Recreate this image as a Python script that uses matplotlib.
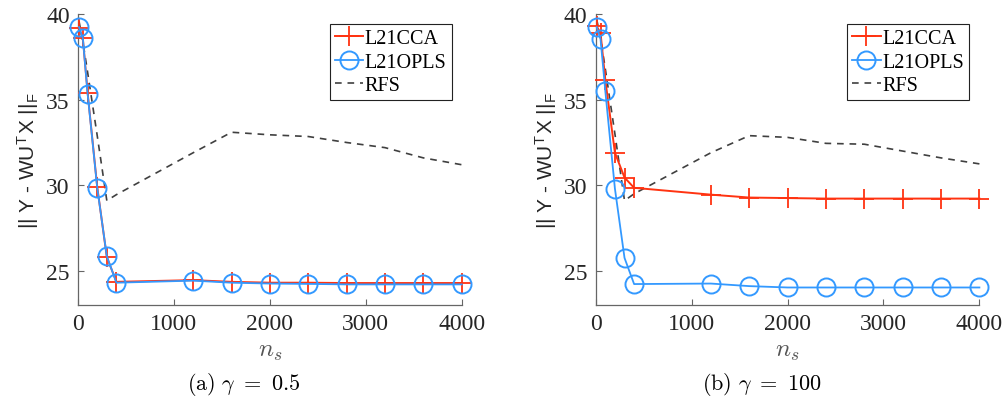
import numpy as np
import matplotlib
matplotlib.use('Agg')
import matplotlib.pyplot as plt

# dados
ns = [10, 50, 100, 200, 300, 400, 1200, 1600, 2000, 2400, 2800, 3200, 3600, 4000]

# (a) gamma = 0.5
cca_a = [39.2, 38.6, 35.4, 29.9, 25.8, 24.35, 24.45, 24.35, 24.3, 24.3, 24.28, 24.28, 24.28, 24.28]
opls_a = [39.25, 38.6, 35.35, 29.85, 25.85, 24.3, 24.42, 24.3, 24.25, 24.23, 24.2, 24.2, 24.2, 24.2]
rfs_a = [39.6, 38.4, 36.6, 32.9, 29.1, 29.45, 31.9, 33.1, 32.95, 32.85, 32.5, 32.2, 31.6, 31.2]

# (b) gamma = 100
cca_b = [39.3, 38.9, 36.15, 31.9, 30.45, 29.85, 29.45, 29.28, 29.25, 29.22, 29.22, 29.22, 29.22, 29.22]
opls_b = [39.25, 38.55, 35.5, 29.8, 25.75, 24.22, 24.25, 24.1, 24.02, 24.02, 24.02, 24.02, 24.02, 24.02]
rfs_b = [39.7, 38.6, 36.8, 33.0, 29.1, 29.5, 31.9, 32.9, 32.8, 32.45, 32.4, 32.0, 31.6, 31.25]

xticks = [0, 1000, 2000, 3000, 4000]
yticks = [25, 30, 35, 40]
legendas = ['L21CCA', 'L21OPLS', 'RFS']
titulos = [r'$\mathrm{(a)}\ \gamma\ =\ 0.5$', r'$\mathrm{(b)}\ \gamma\ =\ 100$']

plt.rcParams['font.family'] = 'Liberation Serif'
plt.rcParams['mathtext.fontset'] = 'cm'

vermelho = '#ff3311'
azul = '#3399ff'
cinza = '#404040'

fig = plt.figure(figsize=(10.07, 4.02), dpi=100)
ax1 = fig.add_axes([0.0775, 0.239, 0.381, 0.723])
ax2 = fig.add_axes([0.5916, 0.239, 0.381, 0.723])

dados = [(ax1, cca_a, opls_a, rfs_a), (ax2, cca_b, opls_b, rfs_b)]
for ax, cca, opls, rfs in dados:
    ax.plot(ns, cca, color=vermelho, marker='+', markersize=14, markeredgewidth=1.3,
            linewidth=1.4, label=legendas[0], clip_on=False, zorder=3)
    ax.plot(ns, opls, color=azul, marker='o', markersize=13, markerfacecolor='none',
            markeredgewidth=1.4, linewidth=1.3, label=legendas[1], clip_on=False, zorder=4)
    ax.plot(ns, rfs, color=cinza, linestyle=(0, (4, 3.5)), linewidth=1.2,
            label=legendas[2], clip_on=False, zorder=2)

    ax.set_xlim(0, 4000)
    ax.set_ylim(23, 40)
    ax.set_xticks(xticks, labels=[str(t) for t in xticks])
    ax.set_yticks(yticks, labels=[str(t) for t in yticks])
    ax.spines['top'].set_visible(False)
    ax.spines['right'].set_visible(False)
    for s in ['left', 'bottom']:
        ax.spines[s].set_color('#666666')
        ax.spines[s].set_linewidth(0.9)
    ax.tick_params(direction='in', length=4, width=0.8, color='#666666',
                   labelsize=17, labelcolor='#262626', pad=6)
    ax.set_xlabel(r'$n_s$', fontsize=18, color='#555555', labelpad=4)
    ax.set_ylabel(r'|| Y - WU$^{\mathregular{T}}$X ||$_{\mathregular{F}}$', fontsize=15,
                  family='Liberation Sans', color='#262626', labelpad=3)
    leg = ax.legend(loc='upper right', fontsize=14.5, frameon=True, fancybox=False,
                    edgecolor='#222222', framealpha=1, borderpad=0.25, labelspacing=0.2,
                    handlelength=1.4, handletextpad=0.1, borderaxespad=0.5)
    leg.get_frame().set_linewidth(0.8)

fig.text(244 / 1007, 1 - 385 / 402, titulos[0], ha='center', va='center', fontsize=16)
fig.text(762 / 1007, 1 - 385 / 402, titulos[1], ha='center', va='center', fontsize=16)

plt.savefig('out.png', dpi=100)
